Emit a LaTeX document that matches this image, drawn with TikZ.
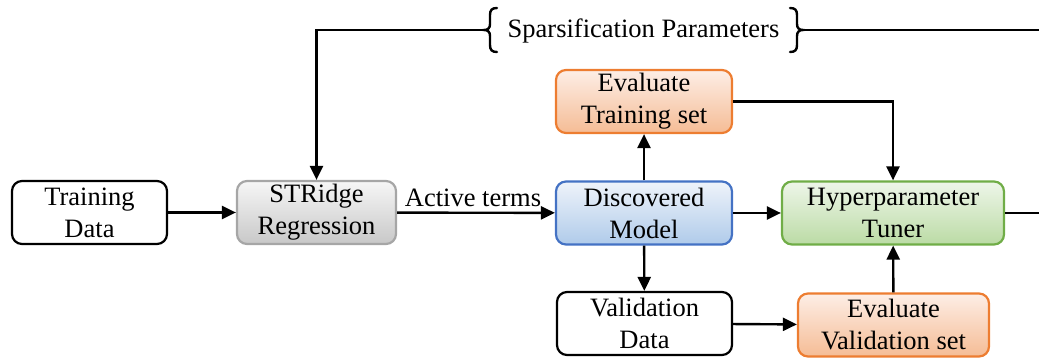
\documentclass[tikz,border=0pt]{standalone}
\usepackage{fontspec}
\setmainfont{Liberation Serif}
\usetikzlibrary{arrows.meta}
\definecolor{bluebd}{HTML}{4472C4}
\definecolor{bluetop}{HTML}{EEF3FA}
\definecolor{bluebot}{HTML}{B0CBEA}
\definecolor{orgbd}{HTML}{ED7D31}
\definecolor{orgtop}{HTML}{FDEEE6}
\definecolor{orgbot}{HTML}{F5BC95}
\definecolor{grnbd}{HTML}{70AD47}
\definecolor{grntop}{HTML}{EEF6E9}
\definecolor{grnbot}{HTML}{BBDBA5}
\definecolor{graybd}{HTML}{A6A6A6}
\definecolor{graytop}{HTML}{F6F6F6}
\definecolor{graybot}{HTML}{C8C8C8}
\tikzset{
  box/.style={rounded corners=10pt, line width=2.2pt, align=center, inner sep=0pt,
    font=\fontsize{26.5}{32}\selectfont, execute at begin node={\rule{0pt}{32pt}}},
  plainbox/.style={box, draw=black, fill=white},
  graybox/.style={box, draw=graybd, top color=graytop, bottom color=graybot},
  bluebox/.style={box, draw=bluebd, top color=bluetop, bottom color=bluebot},
  orgbox/.style={box, draw=orgbd, top color=orgtop, bottom color=orgbot},
  grnbox/.style={box, draw=grnbd, top color=grntop, bottom color=grnbot},
  conn/.style={line width=2.4pt, -{Triangle[length=14pt,width=13pt]}},
  line/.style={line width=2.4pt},
  lbl/.style={font=\fontsize{26.5}{30}\selectfont, inner sep=0pt}
}
\begin{document}
\begin{tikzpicture}[x=1pt,y=-1pt]
\useasboundingbox (0,0) rectangle (1039,358);

\node[plainbox, minimum width=155pt, minimum height=63pt] (train) at (89.5,212.5) {Training\\Data};
\node[graybox, minimum width=159pt, minimum height=63pt] (str) at (316.5,212.5) {STRidge\\Regression};
\node[bluebox, minimum width=176pt, minimum height=63pt] (disc) at (644,213) {Discovered\\Model};
\node[orgbox, minimum width=176pt, minimum height=63pt] (evtr) at (644,101.5) {Evaluate\\Training set};
\node[grnbox, minimum width=222pt, minimum height=63pt] (tun) at (893,213) {Hyperparameter\\Tuner};
\node[plainbox, minimum width=175pt, minimum height=63pt] (val) at (644.5,323.5) {Validation\\Data};
\node[orgbox, minimum width=191pt, minimum height=63pt] (evval) at (893.5,325) {Evaluate\\Validation set};

\node[lbl] (param) at (643.5,31) {Sparsification Parameters};
\coordinate (bl) at (484,30);
\coordinate (br) at (803,30);
\coordinate (redge1) at (1039,30);
\coordinate (redge2) at (1039,213);

% braces
\draw[line, line cap=round] (497,8) .. controls (492,8) and (490,10) .. (490,15) -- (490,24)
  .. controls (490,28) and (488,30) .. (bl) .. controls (488,30) and (490,32) .. (490,36)
  -- (490,45) .. controls (490,50) and (492,52) .. (497,52);
\draw[line, line cap=round] (790,8) .. controls (795,8) and (797,10) .. (797,15) -- (797,24)
  .. controls (797,28) and (799,30) .. (br) .. controls (799,30) and (797,32) .. (797,36)
  -- (797,45) .. controls (797,50) and (795,52) .. (790,52);

% connectors
\draw[conn] (bl) -| (str.north);
\draw[line] (br) -- (redge1);
\draw[line] (tun.east) -- (redge2);
\draw[conn] (train) -- (str);
\draw[conn] (str) -- node[lbl, above=5pt, xshift=-3pt] {Active terms} (disc);
\draw[conn] (disc) -- (evtr);
\draw[conn] (evtr.east) -| (tun.north);
\draw[conn] (disc) -- (tun);
\draw[conn] (disc) -- (val);
\draw[conn] (val) -- (evval);
\draw[conn] (evval) -- (tun);
\end{tikzpicture}
\end{document}
